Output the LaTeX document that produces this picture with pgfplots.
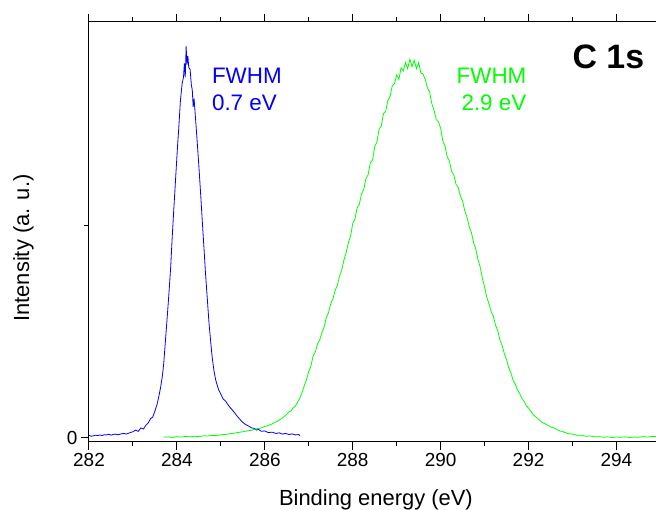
\documentclass[border=0pt]{standalone}
\usepackage{pgfplots}
\pgfplotsset{compat=1.18}
\usepackage{fontspec}
\setmainfont{Liberation Sans}
\definecolor{oblue}{RGB}{0,0,255}
\definecolor{ogreen}{RGB}{0,255,0}
\pgfplotstableread{
x y
282.00 0.011
282.05 0.007
282.10 0.009
282.15 0.012
282.20 0.010
282.25 0.013
282.30 0.010
282.35 0.014
282.40 0.013
282.45 0.016
282.50 0.012
282.55 0.015
282.60 0.017
282.65 0.014
282.70 0.016
282.75 0.019
282.80 0.020
282.85 0.017
282.90 0.021
282.95 0.025
283.00 0.028
283.06 0.036
283.12 0.030
283.18 0.046
283.24 0.041
283.29 0.058
283.35 0.070
283.40 0.090
283.45 0.097
283.50 0.126
283.55 0.158
283.59 0.196
283.63 0.238
283.67 0.292
283.70 0.350
283.74 0.460
283.78 0.570
283.82 0.684
283.86 0.810
283.89 0.934
283.93 1.080
283.97 1.220
284.01 1.360
284.05 1.486
284.08 1.590
284.12 1.672
284.15 1.700
284.17 1.765
284.19 1.700
284.21 1.845
284.23 1.760
284.25 1.800
284.27 1.745
284.30 1.738
284.33 1.662
284.35 1.640
284.37 1.560
284.39 1.600
284.42 1.516
284.46 1.400
284.50 1.280
284.54 1.150
284.58 1.013
284.62 0.880
284.65 0.777
284.69 0.660
284.73 0.541
284.77 0.450
284.80 0.384
284.84 0.320
284.88 0.274
284.92 0.245
284.95 0.226
285.00 0.205
285.05 0.183
285.11 0.172
285.16 0.156
285.21 0.142
285.26 0.131
285.31 0.118
285.36 0.104
285.41 0.092
285.47 0.078
285.53 0.067
285.58 0.060
285.64 0.054
285.70 0.046
285.76 0.044
285.81 0.036
285.86 0.039
285.92 0.030
286.00 0.032
286.08 0.024
286.17 0.026
286.25 0.020
286.33 0.023
286.40 0.017
286.47 0.020
286.55 0.015
286.62 0.018
286.70 0.013
286.77 0.015
286.80 0.010
}\blue
\pgfplotstableread{
x y
283.70 0.002
283.80 0.004
283.90 0.001
284.00 0.005
284.10 0.003
284.20 0.006
284.30 0.004
284.40 0.007
284.50 0.005
284.60 0.009
284.70 0.008
284.80 0.011
284.90 0.010
285.00 0.014
285.10 0.015
285.20 0.019
285.30 0.021
285.40 0.025
285.50 0.028
285.60 0.032
285.70 0.035
285.80 0.042
285.90 0.045
286.00 0.053
286.10 0.059
286.20 0.069
286.30 0.079
286.40 0.093
286.50 0.110
286.55 0.122
286.60 0.126
286.65 0.142
286.70 0.150
286.75 0.170
286.80 0.188
286.85 0.215
286.90 0.246
286.95 0.275
287.00 0.312
287.05 0.340
287.10 0.386
287.15 0.405
287.20 0.442
287.25 0.462
287.30 0.495
287.35 0.522
287.40 0.568
287.45 0.590
287.50 0.632
287.55 0.655
287.60 0.695
287.65 0.718
287.70 0.762
287.75 0.790
287.80 0.838
287.85 0.872
287.90 0.918
287.95 0.950
288.00 1.010
288.05 1.030
288.10 1.085
288.15 1.100
288.20 1.150
288.25 1.170
288.30 1.222
288.35 1.240
288.40 1.296
288.45 1.310
288.50 1.372
288.55 1.395
288.60 1.455
288.65 1.470
288.70 1.528
288.75 1.540
288.80 1.590
288.85 1.610
288.90 1.660
288.95 1.670
289.00 1.712
289.05 1.690
289.10 1.745
289.15 1.730
289.20 1.770
289.25 1.740
289.30 1.785
289.35 1.750
289.40 1.780
289.45 1.740
289.50 1.770
289.55 1.720
289.60 1.715
289.65 1.690
289.70 1.650
289.75 1.630
289.80 1.575
289.85 1.545
289.90 1.500
289.95 1.490
290.00 1.460
290.05 1.400
290.10 1.375
290.15 1.325
290.20 1.305
290.25 1.255
290.30 1.240
290.35 1.195
290.40 1.180
290.45 1.140
290.50 1.115
290.55 1.070
290.60 1.040
290.65 0.995
290.70 0.968
290.75 0.920
290.80 0.890
290.85 0.840
290.90 0.805
290.95 0.752
291.00 0.710
291.05 0.662
291.10 0.632
291.15 0.595
291.20 0.572
291.25 0.530
291.30 0.505
291.35 0.460
291.40 0.435
291.45 0.395
291.50 0.368
291.55 0.330
291.60 0.305
291.65 0.270
291.70 0.252
291.75 0.225
291.80 0.208
291.85 0.185
291.90 0.172
291.95 0.150
292.00 0.140
292.10 0.110
292.20 0.092
292.30 0.073
292.40 0.063
292.50 0.051
292.60 0.044
292.70 0.033
292.80 0.027
292.90 0.019
293.00 0.017
293.10 0.011
293.20 0.012
293.30 0.007
293.40 0.008
293.50 0.004
293.60 0.005
293.70 0.002
293.80 0.004
293.90 0.001
294.00 0.003
294.10 0.002
294.20 0.004
294.30 0.001
294.40 0.003
294.50 0.002
294.60 0.005
294.70 0.003
294.80 0.006
294.90 0.005
}\green
\begin{document}
\begin{tikzpicture}
\useasboundingbox (-89bp,-68.3bp) rectangle (567bp,441.7bp);
\begin{axis}[
  scale only axis, width=567bp, height=420bp,
  xmin=282, xmax=294.9, ymin=-0.0189, ymax=1.962,
  separate axis lines,
  axis x line*=box, axis y line*=left,
  axis line style={-, line width=1bp, black},
  xtick distance=2, minor x tick num=1,
  ytick={0}, minor ytick={1},
  tick align=outside, major tick length=8bp, minor tick length=4.5bp,
  tick style={line width=1bp, black},
  ticklabel style={font=\fontsize{19}{22}\selectfont},
  /pgf/number format/assume math mode=true,
  /pgf/number format/1000 sep={},
  xlabel={Binding energy (eV)},
  ylabel={Intensity (a. u.)},
  label style={font=\fontsize{22}{26}\selectfont},
  xlabel style={at={(axis description cs:0.506,-0.153)}, anchor=base},
  ylabel style={at={(axis description cs:-0.1155,0.461)}, anchor=center},
]
\addplot[oblue, line width=0.8bp] table[x=x,y=y] {\blue};
\addplot[ogreen, line width=0.8bp] table[x=x,y=y] {\green};
\node[oblue, anchor=base west, font=\fontsize{22.5}{26}\selectfont, inner sep=0pt] at (axis cs:284.795,1.672) {FWHM};
\node[oblue, anchor=base west, font=\fontsize{22.5}{26}\selectfont, inner sep=0pt] at (axis cs:284.795,1.542) {0.7 eV};
\node[ogreen, anchor=base east, font=\fontsize{22.5}{26}\selectfont, inner sep=0pt] at (axis cs:291.955,1.672) {FWHM};
\node[ogreen, anchor=base east, font=\fontsize{22.5}{26}\selectfont, inner sep=0pt] at (axis cs:291.955,1.542) {2.9 eV};
\node[black, anchor=base east, font=\fontsize{34}{38}\selectfont\bfseries, inner sep=0pt] at (axis cs:294.636,1.742) {C 1s};
\end{axis}
\end{tikzpicture}
\end{document}
